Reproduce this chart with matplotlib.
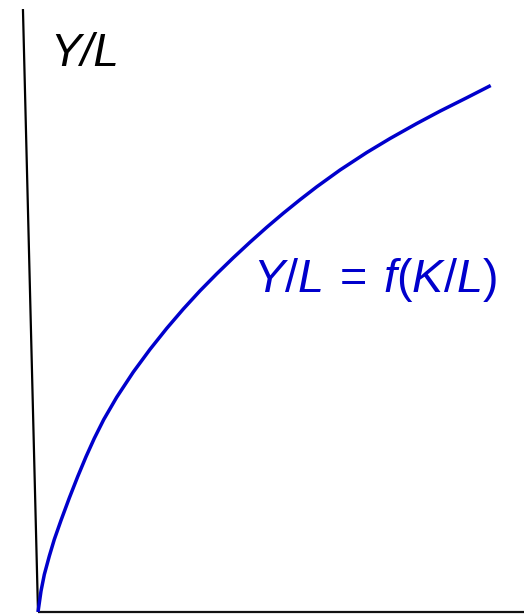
import matplotlib
matplotlib.use("Agg")
import matplotlib.pyplot as plt

plt.rcParams["font.family"] = ["Liberation Sans", "DejaVu Sans"]
plt.rcParams["mathtext.fontset"] = "custom"
plt.rcParams["mathtext.rm"] = "Liberation Sans"
plt.rcParams["mathtext.it"] = "Liberation Sans:italic"

# production function (capital per worker -> output per worker)
k_per_l = [0.0, 0.062, 0.130, 0.233, 0.335, 0.473, 0.644, 0.817, 0.988,
           1.158, 1.352, 1.619, 1.961, 2.305, 2.648, 2.990, 3.333, 3.677,
           4.019, 4.362, 4.706, 5.047, 5.391, 5.735, 6.214, 6.763, 7.243,
           7.792, 8.272, 8.821, 9.315]
y_per_l = [0.0, 0.418, 0.746, 1.114, 1.443, 1.823, 2.269, 2.695, 3.091,
           3.455, 3.829, 4.274, 4.776, 5.228, 5.644, 6.030, 6.392, 6.730,
           7.051, 7.359, 7.656, 7.936, 8.205, 8.462, 8.796, 9.144, 9.423,
           9.721, 9.968, 10.234, 10.478]

# hand drawn axes: the vertical one leans a little to the left
x_axis_end = (10.0, 0.0)
y_axis_top = (-0.31, 12.0)

y_label = "Y/L"
curve_label = r"$Y/L\:=\:f(K/L)$"

BLUE = "#0000cc"

fig = plt.figure(figsize=(5.24, 6.14), dpi=100)
ax = fig.add_axes([0, 0, 1, 1])
ax.set_xlim(-0.782, 10.0)
ax.set_ylim(-0.04, 12.18)
ax.axis("off")

# axes lines
ax.plot([0, x_axis_end[0]], [0, x_axis_end[1]], color="#111111", lw=1.6,
        solid_capstyle="butt", clip_on=False)
ax.plot([0, y_axis_top[0]], [0, y_axis_top[1]], color="black", lw=1.6,
        solid_capstyle="butt")

# the curve
ax.plot(k_per_l, y_per_l, color=BLUE, lw=2.5, solid_capstyle="butt",
        solid_joinstyle="round")

ax.text(0.25, 10.87, y_label, fontsize=33, style="italic", ha="left",
        va="baseline")
ax.text(4.42, 6.37, curve_label, fontsize=33.7, color=BLUE, ha="left",
        va="baseline")

fig.savefig("out.png", dpi=100)
